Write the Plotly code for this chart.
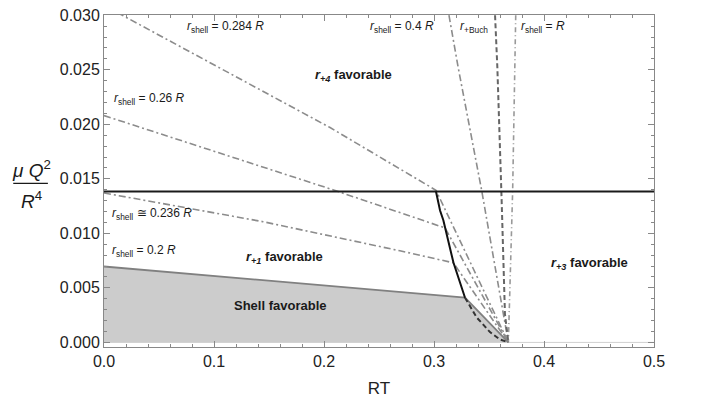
import plotly.graph_objects as go

# Phase boundaries in the (RT, mu Q^2 / R^4) plane
rt_end = 0.3676                      # common end point on the RT axis
q_crit = 0.01384                     # horizontal critical line

# r_shell = 0.284 R
x_284 = [0.0, 0.1327, 0.2055, 0.3018, rt_end]
y_284 = [0.0309, 0.0237, 0.0197, 0.01395, 0.0]
# r_shell = 0.26 R
x_26 = [0.0, 0.208, 0.310, rt_end]
y_26 = [0.0208, 0.0140, 0.0105, 0.0]
# r_shell ~ 0.236 R
x_236 = [0.0, 0.1445, 0.269, 0.2964, 0.3176, rt_end]
y_236 = [0.0137, 0.01107, 0.0084, 0.0078, 0.0073, 0.0]
# r_shell = 0.2 R (upper edge of the shell region)
x_20 = [0.0, 0.3282, rt_end]
y_20 = [0.00696, 0.0041, 0.0]
# r_shell = 0.4 R
x_40 = [0.3136, 0.322, 0.3434, rt_end]
y_40 = [0.030, 0.0252, 0.0139, 0.0]
# r_+Buch
x_buch = [0.3555, 0.3576, 0.3615, 0.3645, rt_end]
y_buch = [0.030, 0.0252, 0.0130, 0.0026, 0.0]
# r_shell = R
x_R = [0.3743, 0.3715, rt_end]
y_R = [0.030, 0.0139, 0.0]
# locus of the kinks (solid) and its continuation (dashed)
x_kink = [0.3018, 0.3055, 0.3085, 0.3176, 0.3282]
y_kink = [0.01384, 0.0121, 0.0112, 0.00735, 0.0041]
x_kink_tail = [0.3282, 0.3388, 0.3509, 0.3600, rt_end]
y_kink_tail = [0.0041, 0.00229, 0.00095, 0.00027, 0.0]

x_ticks = [0.0, 0.1, 0.2, 0.3, 0.4, 0.5]
y_ticks = [0.0, 0.005, 0.010, 0.015, 0.020, 0.025, 0.030]

FONT = "Liberation Sans"
DASHDOT = "7px,3px,2px,3px"
GRAY = "#8c8c8c"

fig = go.Figure()

# shaded shell-favourable region
fig.add_trace(go.Scatter(
    x=[0.0] + x_20 + [0.0], y=[0.0] + y_20 + [0.0],
    fill="toself", fillcolor="#cccccc", mode="lines",
    line=dict(width=0), hoverinfo="skip"))

# baseline along RT axis
fig.add_trace(go.Scatter(x=[0.0, 0.5], y=[0.0, 0.0], mode="lines",
                         line=dict(color="#d0d0d0", width=1)))

for xs, ys in [(x_284, y_284), (x_26, y_26), (x_236, y_236), (x_40, y_40)]:
    fig.add_trace(go.Scatter(x=xs, y=ys, mode="lines",
                             line=dict(color=GRAY, width=1.6, dash=DASHDOT)))

fig.add_trace(go.Scatter(x=x_R, y=y_R, mode="lines",
                         line=dict(color="#999999", width=1.6, dash="5px,3px,1px,3px")))
fig.add_trace(go.Scatter(x=x_buch, y=y_buch, mode="lines",
                         line=dict(color="#666666", width=2, dash="5px,3px")))

fig.add_trace(go.Scatter(x=x_20, y=y_20, mode="lines",
                         line=dict(color="#808080", width=1.8)))

fig.add_trace(go.Scatter(x=[0.0, 0.5], y=[q_crit, q_crit], mode="lines",
                         line=dict(color="#1a1a1a", width=2)))
fig.add_trace(go.Scatter(x=x_kink, y=y_kink, mode="lines",
                         line=dict(color="#111111", width=2)))
fig.add_trace(go.Scatter(x=x_kink_tail, y=y_kink_tail, mode="lines",
                         line=dict(color="#333333", width=2, dash="5px,3px")))

def lab(x, y, text, size=12, anchor="left", bold=False):
    if bold:
        text = "<b>" + text + "</b>"
    fig.add_annotation(x=x, y=y, text=text, showarrow=False, xanchor=anchor,
                       yanchor="middle", font=dict(family=FONT, size=size, color="#1a1a1a"))

lab(0.0736, 0.0289, "<i>r</i><sub>shell</sub> = 0.284 <i>R</i>")
lab(0.2400, 0.0289, "<i>r</i><sub>shell</sub> = 0.4 <i>R</i>")
lab(0.3218, 0.0289, "<i>r</i><sub>+Buch</sub>")
lab(0.3773, 0.0289, "<i>r</i><sub>shell</sub> = <i>R</i>")
lab(0.0073, 0.0223, "<i>r</i><sub>shell</sub> = 0.26 <i>R</i>")
lab(0.0055, 0.0118, "<i>r</i><sub>shell</sub> ≅ 0.236 <i>R</i>")
lab(0.0055, 0.0084, "<i>r</i><sub>shell</sub> = 0.2 <i>R</i>")
lab(0.2264, 0.0245, "<i>r</i><sub><i>+4</i></sub> favorable", 13, "center", True)
lab(0.1645, 0.0078, "<i>r</i><sub><i>+1</i></sub> favorable", 13, "center", True)
lab(0.441, 0.0072, "<i>r</i><sub><i>+3</i></sub> favorable", 13, "center", True)
lab(0.16, 0.0034, "Shell favorable", 13, "center", True)

# vertical-axis label as a fraction
fig.add_annotation(xref="paper", yref="paper", x=-0.1327, y=0.535, text="<i>μ Q</i><sup>2</sup>",
                   showarrow=False, xanchor="center", yanchor="middle",
                   font=dict(family=FONT, size=19, color="#1a1a1a"))
fig.add_annotation(xref="paper", yref="paper", x=-0.1327, y=0.443, text="<i>R</i><sup>4</sup>",
                   showarrow=False, xanchor="center", yanchor="middle",
                   font=dict(family=FONT, size=19, color="#1a1a1a"))
fig.add_shape(type="line", xref="paper", yref="paper", x0=-0.165, x1=-0.102,
              y0=0.493, y1=0.493, line=dict(color="#1a1a1a", width=1.2))

axis_common = dict(showgrid=False, zeroline=False, showline=True, linecolor="#888888",
                   linewidth=1, mirror="ticks", ticks="inside", ticklen=6, tickcolor="#888888",
                   ticklabeloverflow="allow",
                   tickfont=dict(family=FONT, size=16, color="#222222"))

fig.update_xaxes(range=[0, 0.5], tickvals=x_ticks, ticktext=[f"{v:.1f}" for v in x_ticks],
                 minor=dict(ticks="inside", dtick=0.02, ticklen=3, tickcolor="#888888"),
                 title=dict(text="RT", font=dict(family=FONT, size=17, color="#222222"), standoff=12),
                 **axis_common)
fig.update_yaxes(range=[-0.00042, 0.03002], tickvals=y_ticks, ticktext=[f"{v:.3f}" for v in y_ticks],
                 minor=dict(ticks="inside", dtick=0.001, ticklen=3, tickcolor="#888888"),
                 **axis_common)

fig.update_layout(width=704, height=401, showlegend=False,
                  plot_bgcolor="white", paper_bgcolor="white",
                  margin=dict(l=104, r=50, t=7, b=54))

fig.write_html("out.html")
